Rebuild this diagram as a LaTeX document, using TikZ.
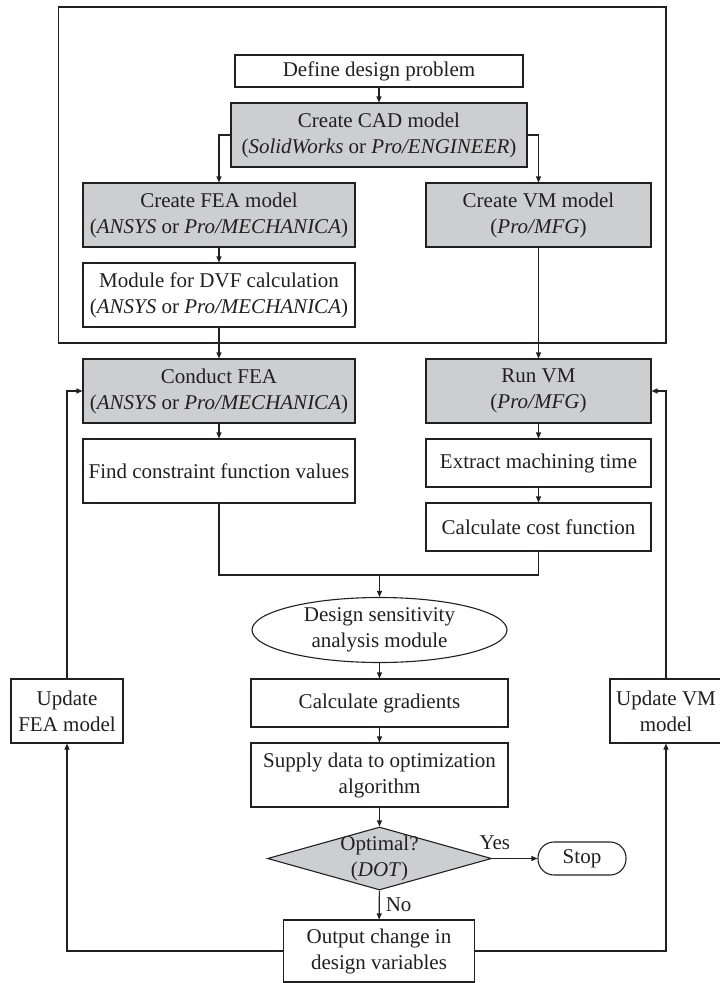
\documentclass[tikz,border=0pt]{standalone}
\usepackage{fontspec}
\setmainfont{Liberation Serif}
\usetikzlibrary{arrows.meta,shapes.geometric}
\definecolor{ink}{RGB}{35,31,32}
\definecolor{shade}{RGB}{205,206,208}
\begin{document}
\begin{tikzpicture}[x=1pt,y=-1pt,
  font=\fontsize{21}{26}\selectfont,
  every node/.style={text=ink},
  box/.style={draw=ink, line width=1.1pt, align=center, inner sep=0pt, fill=white},
  grey/.style={box, fill=shade},
  link/.style={draw=ink, line width=1.1pt},
  arr/.style={link, -{Triangle[length=6pt,width=5pt]}},
  oval/.style={box, ellipse},
  decision/.style={draw=ink, line width=1.1pt, fill=shade, diamond, inner sep=0pt},
  terminal/.style={box, rounded corners=16pt},
]
\useasboundingbox (0,0) rectangle (720,983);

% model set-up stage, grouped in a frame
\draw[link] (58.7,7) rectangle (666,343);
\node[box,  minimum width=288pt, minimum height=32pt] (define) at (379,71) {Define design problem};
\node[grey, minimum width=296pt, minimum height=64pt] (cad) at (379,135)
  {Create CAD model\\(\textit{SolidWorks} or \textit{Pro/ENGINEER})};
\node[grey, minimum width=272pt, minimum height=64pt] (fea) at (219,215)
  {Create FEA model\\(\textit{ANSYS} or \textit{Pro/MECHANICA})};
\node[grey, minimum width=225pt, minimum height=64pt] (vm) at (538.5,215)
  {Create VM model\\(\textit{Pro/MFG})};
\node[box,  minimum width=272pt, minimum height=64pt] (dvf) at (219,295)
  {Module for DVF calculation\\(\textit{ANSYS} or \textit{Pro/MECHANICA})};

% analysis stage
\node[grey, minimum width=272pt, minimum height=64pt] (conduct) at (219,391)
  {Conduct FEA\\(\textit{ANSYS} or \textit{Pro/MECHANICA})};
\node[grey, minimum width=225pt, minimum height=64pt] (runvm) at (538.5,391)
  {Run VM\\(\textit{Pro/MFG})};
\node[box,  minimum width=272pt, minimum height=64pt] (findc) at (219,471)
  {Find constraint function values};
\node[box,  minimum width=225pt, minimum height=48pt] (extract) at (538.5,463)
  {Extract machining time};
\node[box,  minimum width=225pt, minimum height=48pt] (calccost) at (538.5,527)
  {Calculate cost function};

% sensitivity and optimization stage
\coordinate (merge) at (379.5,575);
\node[oval, minimum width=255pt, minimum height=65pt] (dsa) at (379.5,630)
  {Design sensitivity\\analysis module};
\node[box, minimum width=257pt, minimum height=48pt] (grad) at (379.5,703)
  {Calculate gradients};
\node[box, minimum width=257pt, minimum height=64pt] (supply) at (379.5,775)
  {Supply data to optimization\\algorithm};
\node[decision, minimum width=224pt, minimum height=63pt,
  label={[align=center, text=ink]center:Optimal?\\(\textit{DOT})}] (opt) at (379.5,858.5) {};
\node[terminal, minimum width=88pt, minimum height=33pt] (stop) at (582,858.5) {Stop};
\node[box, minimum width=191pt, minimum height=62pt] (output) at (379,951)
  {Output change in\\design variables};

% model updates
\node[box, minimum width=112pt, minimum height=64pt] (updfea) at (67,711)
  {Update\\FEA model};
\node[box, minimum width=112pt, minimum height=64pt] (updvm) at (666,711)
  {Update VM\\model};

% connectors
\draw[arr] (define) -- (cad);
\draw[arr] (cad.west) -| (fea.north);
\draw[arr] (cad.east) -| (vm.north);
\draw[arr] (fea) -- (dvf);
\draw[arr] (dvf) -- (conduct);
\draw[arr] (vm) -- (runvm);
\draw[arr] (conduct) -- (findc);
\draw[arr] (runvm) -- (extract);
\draw[arr] (extract) -- (calccost);
\draw[link] (findc.south) |- (merge) -| (calccost.south);
\draw[arr] (merge) -- (dsa);
\draw[arr] (dsa) -- (grad);
\draw[arr] (grad) -- (supply);
\draw[arr] (supply) -- (opt);
\draw[arr] (opt) -- node[pos=0.06, above=8pt, inner sep=0pt]{Yes} (stop);
\draw[arr] (opt) -- node[anchor=west, inner sep=0pt, xshift=6pt]{No} (output);
\draw[arr] (output.west) -| (updfea.south);
\draw[arr] (updfea.north) |- (conduct.west);
\draw[arr] (output.east) -| (updvm.south);
\draw[arr] (updvm.north) |- (runvm.east);
\end{tikzpicture}
\end{document}
